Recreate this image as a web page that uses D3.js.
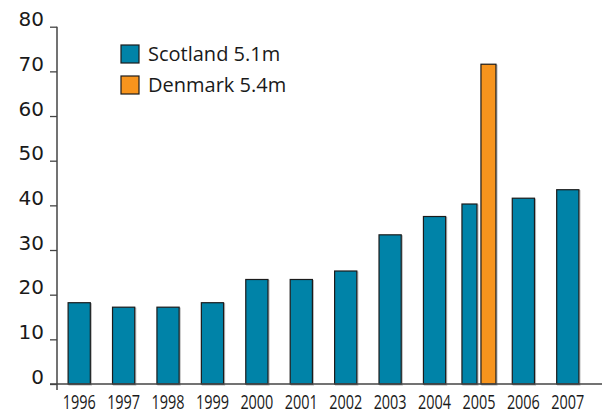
<!DOCTYPE html>
<html>
<head>
  <meta charset="utf-8">
  <script src="https://d3js.org/d3.v7.min.js"></script>
  <style>
    body { margin: 0; background: #fff; }
  </style>
</head>
<body>
  <svg id="chart"></svg>
  <script>
    // data
    let years = ["1996", "1997", "1998", "1999", "2000", "2001", "2002", "2003", "2004", "2005", "2006", "2007"];
    let scotland = [18.2, 17.2, 17.2, 18.2, 23.4, 23.4, 25.3, 33.4, 37.5, 40.3, 41.6, 43.5];
    let denmarkYear = "2005";
    let denmarkValue = 71.6;
    let yTicks = [0, 10, 20, 30, 40, 50, 60, 70, 80];
    let legendLabels = ["Scotland 5.1m", "Denmark 5.4m"];
    let colors = ["#0083a8", "#f7941d"];

    let width = 602, height = 415;
    let svg = d3.select("#chart").attr("width", width).attr("height", height);

    let x = d3.scaleBand()
      .domain(years)
      .range([57, 590])
      .paddingInner(0.5)
      .paddingOuter(0.25);

    let y = d3.scaleLinear()
      .domain([0, 80])
      .range([384, 26.7]);

    // bars, 2005 split into two
    let pairW = 15, pairGap = 4;
    let bars = [];
    years.forEach((yr, i) => {
      if (yr === denmarkYear) {
        let c = x(yr) + x.bandwidth() / 2;
        bars.push({ year: yr, v: scotland[i], x0: c - pairGap / 2 - pairW, w: pairW, c: colors[0] });
        bars.push({ year: yr, v: denmarkValue, x0: c + pairGap / 2, w: pairW, c: colors[1] });
      } else {
        bars.push({ year: yr, v: scotland[i], x0: x(yr), w: x.bandwidth(), c: colors[0] });
      }
    });

    // soft grey shadow
    svg.append("g").selectAll("rect")
      .data(bars)
      .enter()
      .append("rect")
      .attr("x", d => d.x0 + 1)
      .attr("y", d => y(d.v) + 1)
      .attr("width", d => d.w)
      .attr("height", d => y(0) - y(d.v))
      .attr("fill", "none")
      .attr("stroke", "#bbb")
      .attr("stroke-width", 1.2);

    svg.append("g").selectAll("rect")
      .data(bars)
      .enter()
      .append("rect")
      .attr("x", d => d.x0)
      .attr("y", d => y(d.v))
      .attr("width", d => d.w)
      .attr("height", d => y(0) - y(d.v))
      .attr("fill", d => d.c)
      .attr("stroke", "#1b1b1b")
      .attr("stroke-width", 1.2);

    // y axis
    let yAxis = svg.append("g")
      .attr("transform", "translate(57,0)")
      .call(d3.axisLeft(y).tickValues(yTicks).tickSize(7).tickPadding(6));
    yAxis.select(".domain").remove();
    yAxis.selectAll(".tick line").attr("stroke", "#444").attr("stroke-width", 1.3);
    yAxis.selectAll("text")
      .attr("font-family", "'DejaVu Sans'")
      .attr("font-size", 20)
      .attr("fill", "#1a1a1a")
      .attr("dy", "-0.05em");

    svg.append("line")
      .attr("x1", 57).attr("x2", 57)
      .attr("y1", y(80)).attr("y2", y(0) + 6)
      .attr("stroke", "#444").attr("stroke-width", 1.5);

    // x axis
    svg.append("line")
      .attr("x1", 50).attr("x2", width)
      .attr("y1", y(0)).attr("y2", y(0))
      .attr("stroke", "#444").attr("stroke-width", 1.5);

    svg.append("g").selectAll("text")
      .data(years)
      .enter()
      .append("text")
      .attr("x", d => x(d) + x.bandwidth() / 2)
      .attr("y", 409)
      .attr("text-anchor", "middle")
      .attr("font-family", "'Open Sans'")
      .attr("font-size", 20)
      .attr("textLength", 33)
      .attr("lengthAdjust", "spacingAndGlyphs")
      .attr("fill", "#1a1a1a")
      .text(d => d);

    // legend
    let legend = svg.append("g").attr("transform", "translate(121,45)");
    let items = legend.selectAll("g")
      .data(legendLabels)
      .enter()
      .append("g")
      .attr("transform", (d, i) => `translate(0,${i * 31})`);
    items.append("rect")
      .attr("width", 18).attr("height", 18)
      .attr("fill", (d, i) => colors[i])
      .attr("stroke", "#1b1b1b")
      .attr("stroke-width", 1.2);
    items.append("text")
      .attr("x", 27)
      .attr("y", 9)
      .attr("dy", "0.36em")
      .attr("font-family", "'Open Sans'")
      .attr("font-size", 20)
      .attr("fill", "#1a1a1a")
      .text(d => d);
  </script>
</body>
</html>
